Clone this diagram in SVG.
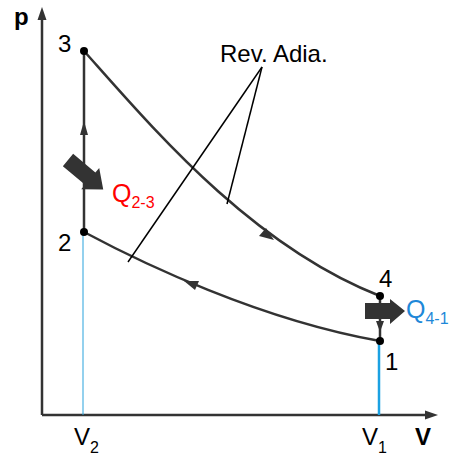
<svg xmlns="http://www.w3.org/2000/svg" width="451" height="459" viewBox="0 0 451 459">
<defs>
<style>
text{font-family:"Liberation Sans",Arial,sans-serif;}
.lbl{font-size:24px;fill:#000;}
.ax{stroke:#333;stroke-width:2.5;fill:none;}
.crv{stroke:#333;stroke-width:2.5;fill:none;}
.lead{stroke:#000;stroke-width:1.5;fill:none;}
.dot{fill:#000;}
.ah{fill:#333;}
.blk{fill:#333;}
</style>
</defs>
<rect width="451" height="459" fill="#fff"/>
<g id="axes">
<line class="ax" x1="42" y1="415" x2="42" y2="14"/>
<polygon class="ah" points="42,7 37.5,20 46.5,20"/>
<line class="ax" x1="42" y1="415" x2="430" y2="415"/>
<polygon class="ah" points="438,415 425,410.5 425,419.5"/>
<text x="14" y="25" style="font-size:24px;font-weight:bold">p</text>
<text x="415" y="445" style="font-size:24px;font-weight:bold">V</text>
</g>
<g id="volume-lines">
<line x1="83" y1="232" x2="83" y2="415" stroke="#29a3dd" stroke-width="1"/>
<line x1="379" y1="341" x2="379" y2="415" stroke="#1ba1e2" stroke-width="2.5"/>
<text class="lbl" x="74" y="445">V<tspan dy="8" style="font-size:16px">2</tspan></text>
<text class="lbl" x="362" y="445">V<tspan dy="8" style="font-size:16px">1</tspan></text>
</g>
<g id="connectors">
<path id="c23" class="crv" d="M84,232 L84,51"/>
<polygon class="ah" points="84,121 80,135 88,135"/>
<path id="c34" class="crv" d="M84,51 C150,125 250,245 380,296"/>
<polygon class="ah" points="274,240 259,236 266,228"/>
<path id="c41" class="crv" d="M380,296 L380,341"/>
<polygon class="ah" points="380,332 376,321 384,321"/>
<path id="c12" class="crv" d="M84,232 C140,262 260,320 380,341"/>
<polygon class="ah" points="184,281 199,281 195,290"/>
</g>
<g id="point-3">
<circle class="dot" cx="84" cy="51" r="4"/>
<text class="lbl" x="58" y="52">3</text>
</g>
<g id="point-2">
<circle class="dot" cx="84" cy="232" r="4"/>
<text class="lbl" x="58" y="251">2</text>
</g>
<g id="point-4">
<circle class="dot" cx="380" cy="296" r="4"/>
<text class="lbl" x="379" y="287">4</text>
</g>
<g id="point-1">
<circle class="dot" cx="380" cy="341" r="4"/>
<text class="lbl" x="385" y="370">1</text>
</g>
<g id="rev-adia">
<text class="lbl" x="220" y="62">Rev. Adia.</text>
<line class="lead" x1="262" y1="67" x2="128" y2="262"/>
<line class="lead" x1="262" y1="67" x2="227" y2="204"/>
</g>
<g id="q23">
<polygon class="blk" transform="translate(68,160) rotate(40)" points="0,-8 29,-8 29,-14 46,0 29,14 29,8 0,8"/>
<text x="112" y="202" style="font-size:25px;fill:#f00">Q<tspan dy="6" style="font-size:16px">2-3</tspan></text>
</g>
<g id="q41">
<polygon class="blk" points="365,303 390,303 390,299 405,311 390,324 390,319 365,319"/>
<text x="406" y="318" style="font-size:25px;fill:#1e88d8">Q<tspan dy="6" style="font-size:16px">4-1</tspan></text>
</g>
</svg>
